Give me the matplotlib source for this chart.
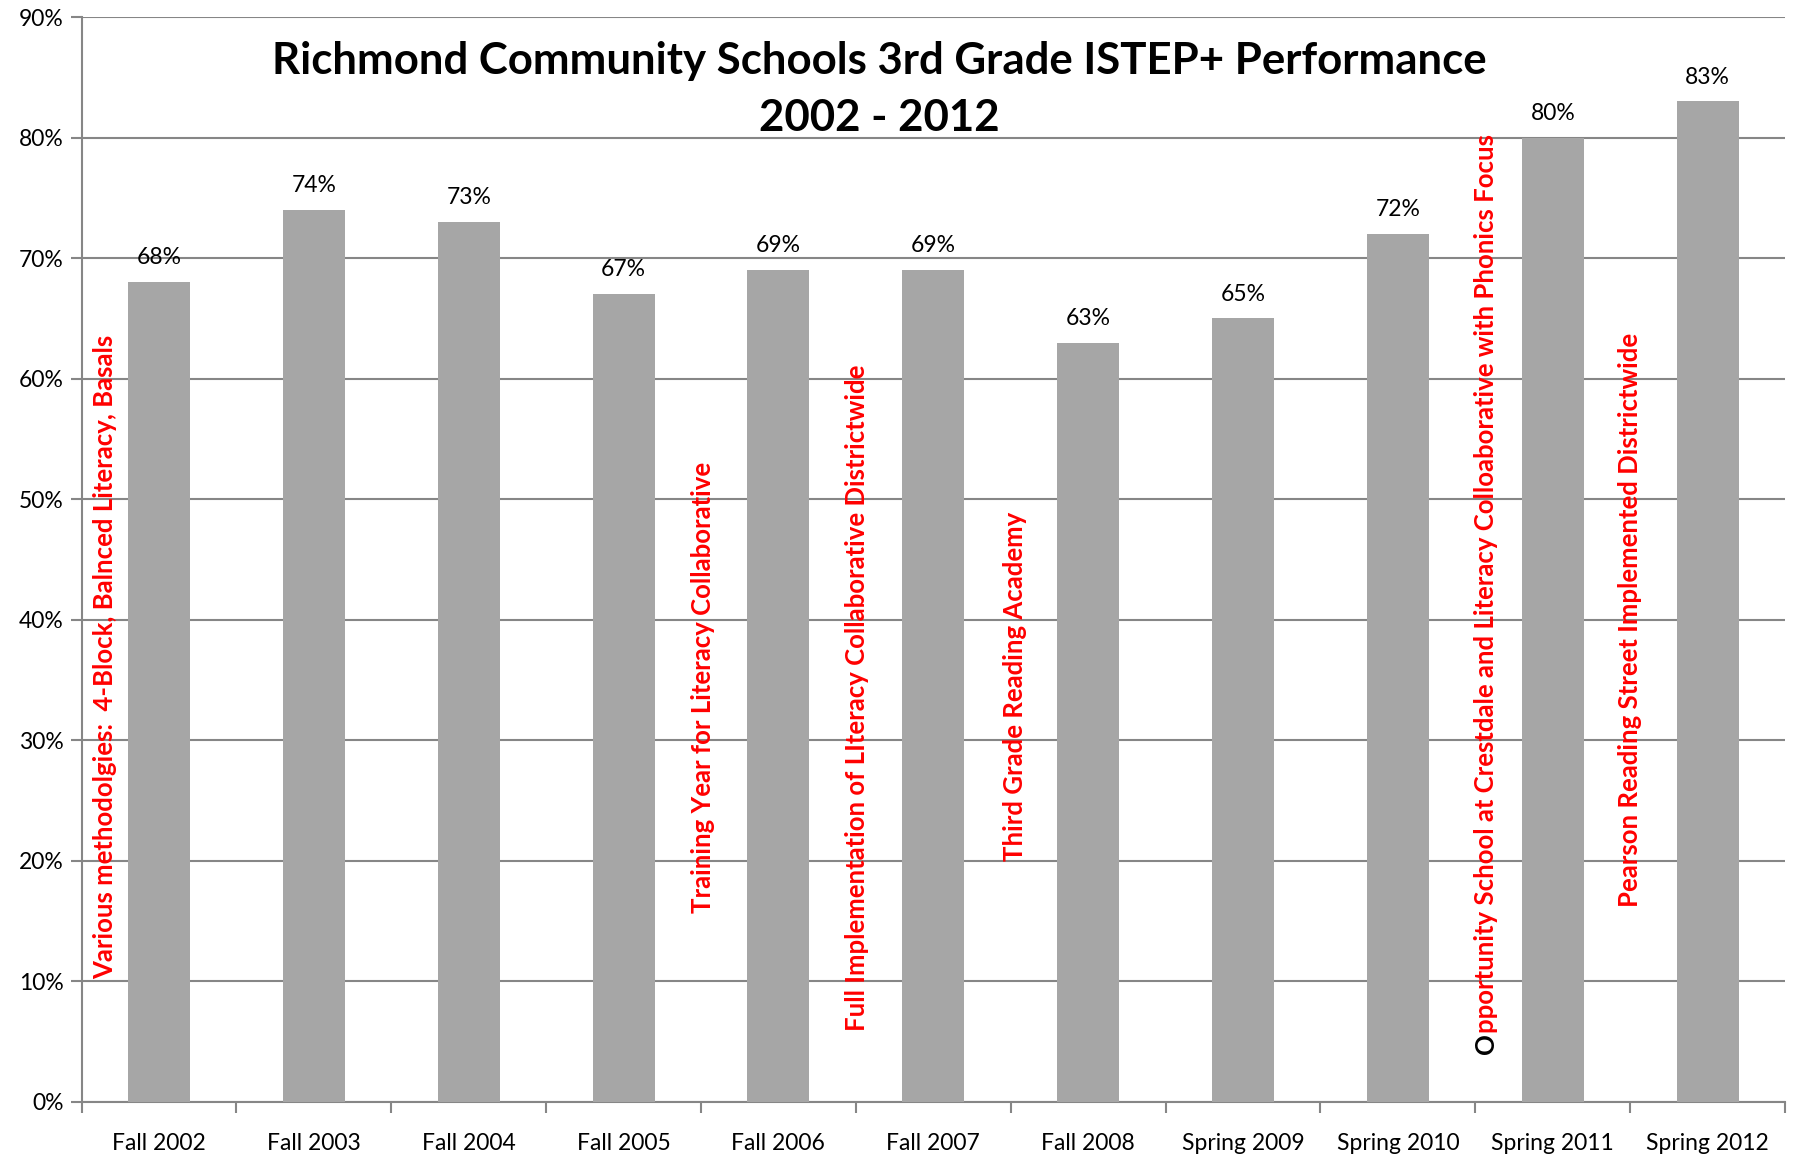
import matplotlib
matplotlib.use("Agg")
import matplotlib.pyplot as plt
from matplotlib.ticker import MultipleLocator, FuncFormatter, FixedLocator

categories = ["Fall 2002", "Fall 2003", "Fall 2004", "Fall 2005", "Fall 2006",
              "Fall 2007", "Fall 2008", "Spring 2009", "Spring 2010",
              "Spring 2011", "Spring 2012"]
values = [68, 74, 73, 67, 69, 69, 63, 65, 72, 80, 83]

annotations = [
    "Various methodolgies:  4-Block, Balnced Literacy, Basals",
    "Training Year for Literacy Collaborative",
    "Full Implementation of LIteracy Collaborative Districtwide",
    "Third Grade Reading Academy",
    "Opportunity School at Crestdale and Literacy Colloaborative with Phonics Focus",
    "Pearson Reading Street Implemented Districtwide",
]

title = "Richmond Community Schools 3rd Grade ISTEP+ Performance\n2002 - 2012"

FONT = ["Lato", "DejaVu Sans"]
plt.rcParams["font.family"] = FONT

fig = plt.figure(figsize=(18, 11.59), dpi=100)
ax = fig.add_axes([0.0453, 0.0492, 0.9464, 0.9361])

x = list(range(len(categories)))
ax.bar(x, values, width=0.40, color="#A6A6A6", zorder=3)

for xi, v in zip(x, values):
    ax.annotate(f"{v}%", xy=(xi, v), xytext=(0, 10), textcoords="offset points",
                ha="center", va="bottom", fontsize=16.5, color="black", zorder=5)

ax.set_xlim(-0.5, len(categories) - 0.5)
ax.set_ylim(0, 90)
ax.yaxis.set_major_locator(MultipleLocator(10))
ax.yaxis.set_major_formatter(FuncFormatter(lambda v, p: f"{int(v)}%"))
ax.grid(axis="y", color="#868686", linewidth=1.5, zorder=0)

ax.set_xticks(x)
ax.set_xticklabels(categories, fontsize=16.5)
ax.tick_params(axis="x", which="major", length=0, pad=22)
ax.xaxis.set_minor_locator(FixedLocator([i - 0.5 for i in range(len(categories) + 1)]))
ax.tick_params(axis="x", which="minor", length=8, width=1.5, color="#868686")
ax.tick_params(axis="y", which="major", length=8, width=1.5, color="#868686",
               labelsize=16.5, pad=5)

for s in ["top", "right"]:
    ax.spines[s].set_visible(False)
for s in ["left", "bottom"]:
    ax.spines[s].set_color("#868686")
    ax.spines[s].set_linewidth(1.5)

ax.text(4.65, 88.0, title, ha="center", va="top", fontsize=31.5,
        fontweight="bold", linespacing=1.5, zorder=6)

red = "#FF0000"
AFS = 18.5
ann_pos = [(-0.345, 10.2), (3.51, 15.7), (4.51, 5.9), (5.53, 20.0), (9.5, 16.2)]
ann_idx = [0, 1, 2, 3, 5]
for (ax_x, ax_y), i in zip(ann_pos, ann_idx):
    ax.text(ax_x, ax_y, annotations[i], rotation=90, ha="center", va="bottom",
            fontsize=AFS, fontweight="bold", color=red, zorder=6)

# Opportunity annotation: first letter black, rest red
opp = annotations[4]
o_txt = ax.text(8.566, 4.0, opp[0], rotation=90, ha="center", va="bottom",
                fontsize=AFS, fontweight="bold", color="black", zorder=6)
ax.annotate(opp[1:], xy=(0.5, 1.0), xycoords=o_txt, rotation=90,
            ha="center", va="bottom", fontsize=AFS, fontweight="bold",
            color=red, zorder=6)

fig.savefig("out.png", dpi=100)
